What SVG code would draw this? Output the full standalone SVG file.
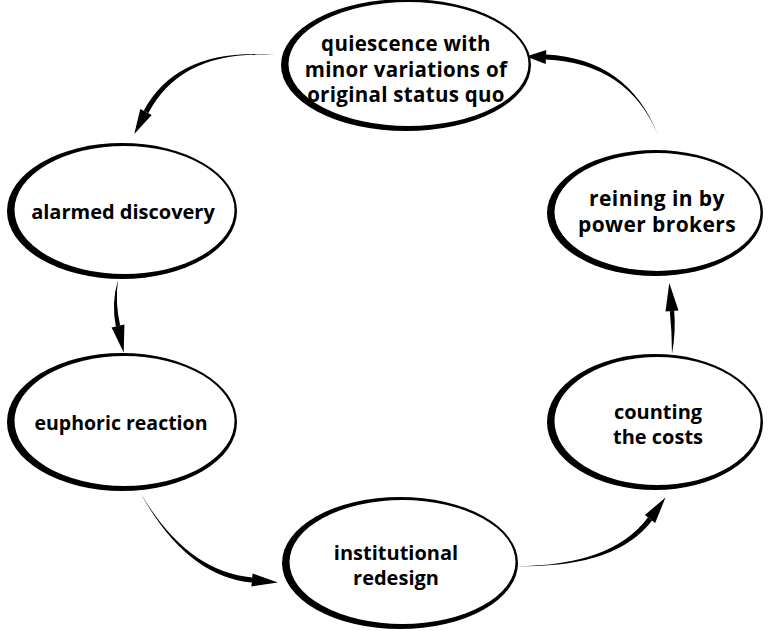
<svg xmlns="http://www.w3.org/2000/svg" width="768" height="631" viewBox="0 0 768 631">
<style>
.o{fill:#000}
.i{fill:#fff}
.t{font-family:"Open Sans","DejaVu Sans",sans-serif;font-weight:700;font-size:20px;fill:#000;text-anchor:middle}
.big{font-size:21px;letter-spacing:0.4px}
.top{font-size:20.5px;letter-spacing:0.3px}
.a{fill:#000;stroke:none}
</style>
<rect width="768" height="631" fill="#fff"/>
<g id="connectors">
<path class="a" d="M275,55 Q182.1,49.1 148.3,113.2 L143.7,110.8 Q177.9,46.9 275,55 Z"/>
<polygon class="a" points="134.3,134 151.7,115 140.3,108.9"/>
<path class="a" d="M118,280 Q114.9,302.6 120.15,325.5 L115.85,326.5 Q111.1,303.4 118,280 Z"/>
<polygon class="a" points="123.7,352.4 124.4,324.6 111.6,327.4"/>
<path class="a" d="M140,492 Q185.8,576.3 251.8,582.6 L252.2,577.4 Q186.2,571.7 140,492 Z"/>
<polygon class="a" points="277.9,582.4 251.4,586.5 252.6,573.5"/>
<path class="a" d="M515,566 Q615.4,568.9 652.1,520.6 L647.9,517.4 Q611.6,566.1 515,566 Z"/>
<polygon class="a" points="665.5,497.5 655.2,522.9 644.8,515.1"/>
<path class="a" d="M672,354 Q676,331.8 674.2,310.8 L669.8,311.2 Q672,332.2 672,354 Z"/>
<polygon class="a" points="669.3,283.1 678.5,310.4 665.5,311.6"/>
<path class="a" d="M658,135 Q628.1,58.7 546.1,54.4 L545.9,59.6 Q627.9,63.3 658,135 Z"/>
<polygon class="a" points="526,56.5 546.3,50 545.7,64"/>
</g>
<g id="quiescence">
<ellipse class="o" cx="406" cy="65" rx="125" ry="66"/>
<ellipse class="i" cx="408.5" cy="64" rx="120" ry="62"/>
<text class="t top" x="406" y="51">quiescence with</text>
<text class="t top" x="406" y="76.5">minor variations of</text>
<text class="t top" x="406" y="102">original status quo</text>
</g>
<g id="alarmed">
<ellipse class="o" cx="122" cy="211" rx="115" ry="68"/>
<ellipse class="i" cx="124.5" cy="210" rx="110" ry="64"/>
<text class="t" x="123" y="219">alarmed discovery</text>
</g>
<g id="euphoric">
<ellipse class="o" cx="122" cy="422" rx="115" ry="69"/>
<ellipse class="i" cx="124.5" cy="421" rx="110" ry="65"/>
<text class="t" x="121" y="430" style="font-size:19.5px">euphoric reaction</text>
</g>
<g id="institutional">
<ellipse class="o" cx="400" cy="563" rx="118" ry="66"/>
<ellipse class="i" cx="402.5" cy="562" rx="113" ry="62"/>
<text class="t" x="396" y="560">institutional</text>
<text class="t" x="396" y="585">redesign</text>
</g>
<g id="counting">
<ellipse class="o" cx="655" cy="422" rx="108" ry="68"/>
<ellipse class="i" cx="657.5" cy="421" rx="103" ry="64"/>
<text class="t" x="658" y="419">counting</text>
<text class="t" x="658" y="444">the costs</text>
</g>
<g id="reining">
<ellipse class="o" cx="655" cy="213" rx="108" ry="63"/>
<ellipse class="i" cx="657.5" cy="212" rx="103" ry="59"/>
<text class="t big" x="657" y="206">reining in by</text>
<text class="t big" x="657" y="231.5">power brokers</text>
</g>
</svg>
